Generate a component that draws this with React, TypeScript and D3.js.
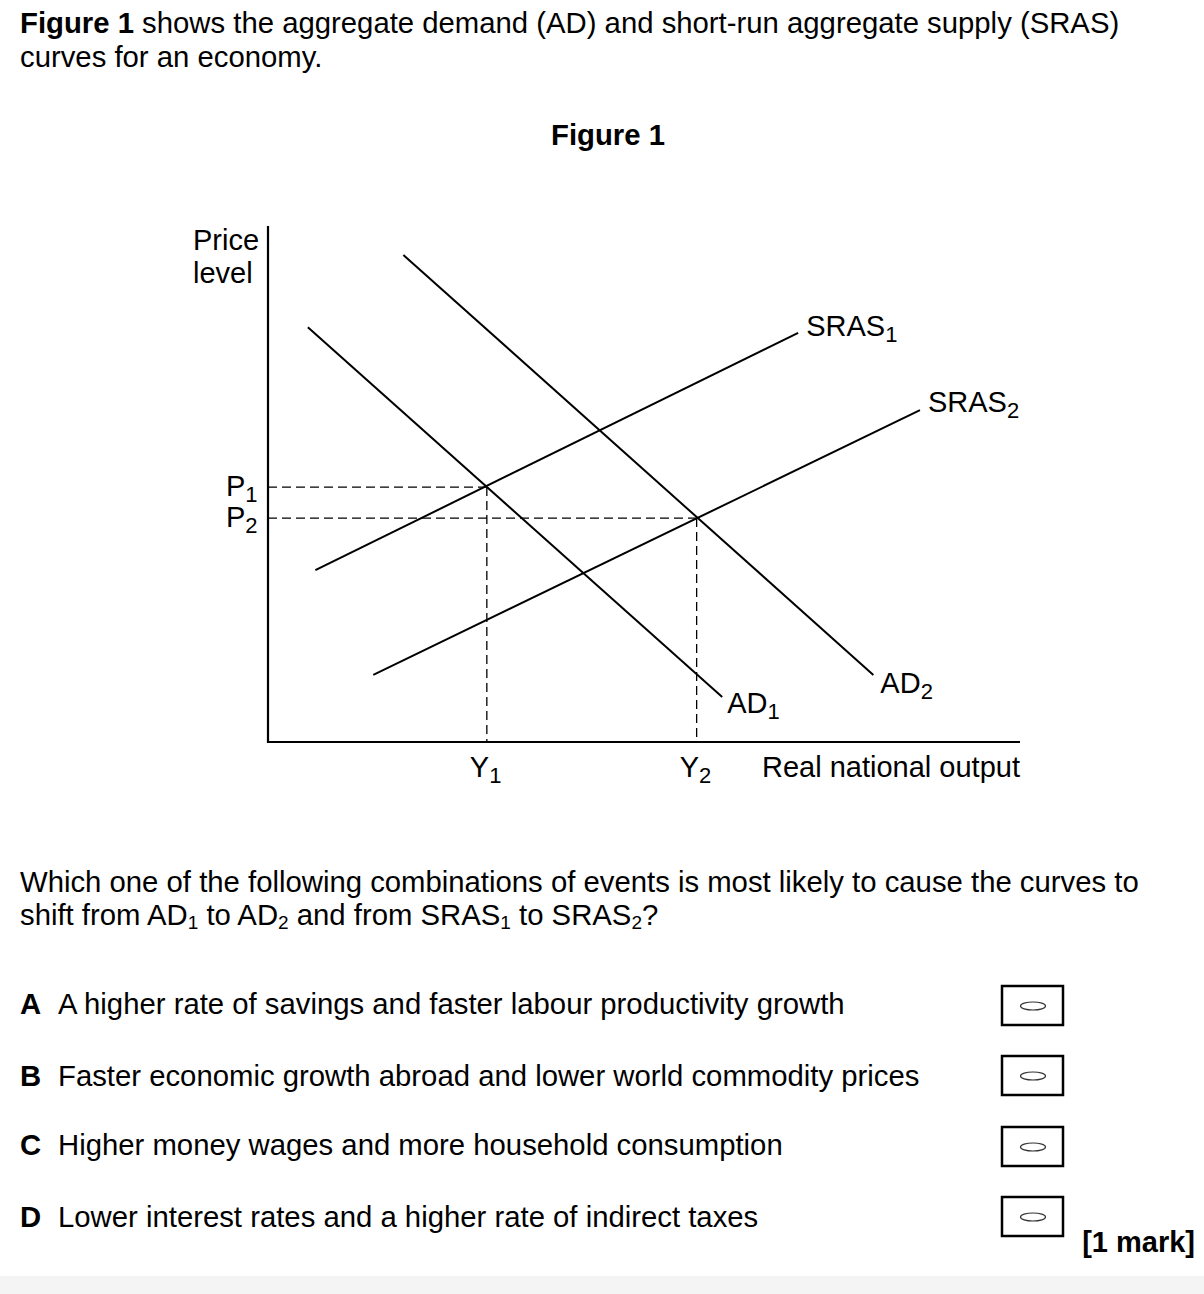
import React from "react";
import * as d3 from "d3";

// curve end points, in chart units (0-100 on both axes)
const curveNames = ["AD", "AD", "SRAS", "SRAS"];
const curveSubs = ["1", "2", "1", "2"];
const curveStart = [
  [5.3, 80.4],
  [18.0, 94.4],
  [6.3, 33.3],
  [14.0, 13.0],
];
const curveEnd = [
  [60.4, 8.7],
  [80.5, 13.0],
  [70.5, 79.3],
  [86.7, 64.3],
];
// equilibrium output (Y) and price (P)
const eqOutput = [29.1, 57.0];
const eqPrice = [49.4, 43.4];

const options = ["A", "B", "C", "D"];
const optionText = [
  "A higher rate of savings and faster labour productivity growth",
  "Faster economic growth abroad and lower world commodity prices",
  "Higher money wages and more household consumption",
  "Lower interest rates and a higher rate of indirect taxes",
];

const W = 1204;
const H = 1294;
const font = "'Liberation Sans', Arial, sans-serif";
const fs = 29.3;

const App = () => {
  const x = d3.scaleLinear().domain([0, 100]).range([268, 1020]);
  const y = d3.scaleLinear().domain([0, 100]).range([742, 226]);
  const line = d3
    .line<number[]>()
    .x((d) => x(d[0]))
    .y((d) => y(d[1]));

  // label offsets next to curve ends
  const labelOff = [
    [5, 16],
    [7, 18],
    [8, 3],
    [8, 2],
  ];
  const optY = [1014, 1086, 1155, 1227];
  const boxY = [986, 1056, 1127, 1197];

  return (
    <svg
      width={W}
      height={H}
      style={{ position: "absolute", left: 0, top: 0, background: "#fff" }}
      fontFamily={font}
      fill="#000"
    >
      <rect x={0} y={1276} width={W} height={H - 1276} fill="#f4f4f4" />

      {/* intro */}
      <text x={20} y={33} fontSize={fs}>
        <tspan fontWeight="bold">Figure 1</tspan> shows the aggregate demand (AD) and short-run aggregate supply (SRAS)
      </text>
      <text x={20} y={67} fontSize={fs}>
        curves for an economy.
      </text>
      <text x={608} y={145} fontSize={fs} fontWeight="bold" textAnchor="middle">
        Figure 1
      </text>

      {/* axes */}
      <g stroke="#000" strokeWidth={2.2} fill="none">
        <line x1={x(0)} y1={y(100)} x2={x(0)} y2={y(0) + 1} />
        <line x1={x(0) - 1} y1={y(0)} x2={x(100)} y2={y(0)} />
      </g>
      <text x={193} y={250} fontSize={29}>Price</text>
      <text x={193} y={283} fontSize={29}>level</text>
      <text x={762} y={777} fontSize={29}>Real national output</text>

      {/* dashed guides */}
      <g stroke="#000" strokeWidth={1.3} strokeDasharray="9,5" fill="none">
        {eqOutput.map((q, i) => (
          <g key={i}>
            <line x1={x(0)} y1={y(eqPrice[i])} x2={x(q)} y2={y(eqPrice[i])} />
            <line x1={x(q)} y1={y(eqPrice[i])} x2={x(q)} y2={y(0)} />
          </g>
        ))}
      </g>

      {/* curves */}
      <g stroke="#000" strokeWidth={2} fill="none">
        {curveStart.map((s, i) => (
          <path key={i} d={line([s, curveEnd[i]]) ?? ""} />
        ))}
      </g>
      {curveEnd.map((e, i) => (
        <text key={i} x={x(e[0]) + labelOff[i][0]} y={y(e[1]) + labelOff[i][1]} fontSize={29}>
          {curveNames[i]}
          <tspan fontSize={22} dy={6}>{curveSubs[i]}</tspan>
        </text>
      ))}

      {/* P and Y labels */}
      {eqPrice.map((p, i) => (
        <text key={"p" + i} x={226} y={y(p) + 9} fontSize={29}>
          P<tspan fontSize={22} dy={6}>{i + 1}</tspan>
        </text>
      ))}
      {eqOutput.map((q, i) => (
        <text key={"y" + i} x={x(q) - 17} y={777} fontSize={29}>
          Y<tspan fontSize={22} dy={6}>{i + 1}</tspan>
        </text>
      ))}

      {/* question */}
      <text x={20} y={892} fontSize={fs}>
        Which one of the following combinations of events is most likely to cause the curves to
      </text>
      <text x={20} y={925} fontSize={fs}>
        shift from AD<tspan fontSize={19} dy={4}>1</tspan>
        <tspan dy={-4}> to AD</tspan>
        <tspan fontSize={19} dy={4}>2</tspan>
        <tspan dy={-4}> and from SRAS</tspan>
        <tspan fontSize={19} dy={4}>1</tspan>
        <tspan dy={-4}> to SRAS</tspan>
        <tspan fontSize={19} dy={4}>2</tspan>
        <tspan dy={-4}>?</tspan>
      </text>

      {options.map((o, i) => (
        <g key={o}>
          <text x={20} y={optY[i]} fontSize={fs} fontWeight="bold">{o}</text>
          <text x={58} y={optY[i]} fontSize={fs}>{optionText[i]}</text>
          <rect x={1002} y={boxY[i]} width={61} height={39} fill="none" stroke="#000" strokeWidth={2.5} />
          <ellipse cx={1033} cy={boxY[i] + 20} rx={12.5} ry={4} fill="none" stroke="#333" strokeWidth={1.2} />
        </g>
      ))}

      <text x={1195} y={1252} fontSize={29} fontWeight="bold" textAnchor="end">
        [1 mark]
      </text>
    </svg>
  );
};

export default App;
